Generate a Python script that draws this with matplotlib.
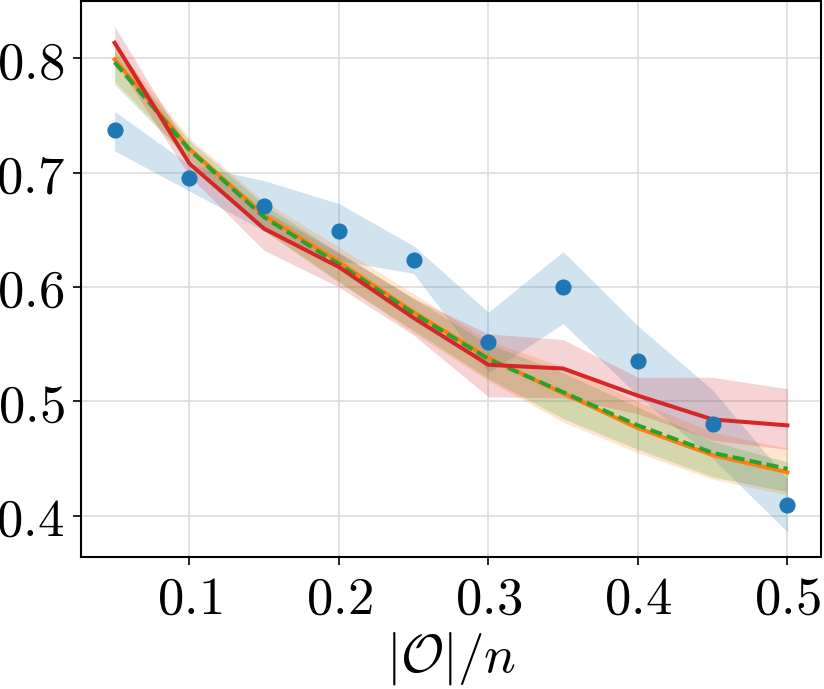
import matplotlib
matplotlib.use("Agg")
import matplotlib.pyplot as plt

plt.rcParams['mathtext.fontset'] = 'cm'
plt.rcParams['font.family'] = ['DejaVu Serif']

x = [0.05, 0.10, 0.15, 0.20, 0.25, 0.30, 0.35, 0.40, 0.45, 0.50]

blue_mean = [0.737, 0.6955, 0.671, 0.6486, 0.624, 0.5515, 0.600, 0.535, 0.480, 0.409]
blue_lo = [0.719, 0.684, 0.649, 0.623, 0.612, 0.525, 0.568, 0.505, 0.450, 0.386]
blue_hi = [0.7535, 0.707, 0.693, 0.673, 0.636, 0.578, 0.631, 0.566, 0.510, 0.432]

orange_mean = [0.799, 0.721, 0.6626, 0.622, 0.578, 0.538, 0.507, 0.4766, 0.453, 0.438]
orange_lo = [0.780, 0.712, 0.650, 0.605, 0.560, 0.518, 0.482, 0.455, 0.432, 0.418]
orange_hi = [0.812, 0.730, 0.675, 0.635, 0.594, 0.553, 0.530, 0.500, 0.473, 0.459]

green_mean = [0.7965, 0.720, 0.661, 0.620, 0.577, 0.537, 0.508, 0.479, 0.455, 0.441]
green_lo = [0.777, 0.711, 0.649, 0.604, 0.562, 0.520, 0.485, 0.458, 0.434, 0.421]
green_hi = [0.806, 0.728, 0.672, 0.630, 0.590, 0.550, 0.525, 0.495, 0.465, 0.447]

red_mean = [0.8135, 0.708, 0.651, 0.6175, 0.573, 0.532, 0.5287, 0.505, 0.4842, 0.479]
red_lo = [0.798, 0.697, 0.632, 0.600, 0.558, 0.504, 0.503, 0.489, 0.466, 0.458]
red_hi = [0.828, 0.720, 0.667, 0.630, 0.590, 0.559, 0.554, 0.521, 0.521, 0.511]

xticks = [0.1, 0.2, 0.3, 0.4, 0.5]
xticklabels = ['$0.1$', '$0.2$', '$0.3$', '$0.4$', '$0.5$']
yticks = [0.4, 0.5, 0.6, 0.7, 0.8]
yticklabels = ['$0.4$', '$0.5$', '$0.6$', '$0.7$', '$0.8$']

fig = plt.figure(figsize=(8.24, 6.89), dpi=100)
ax = fig.add_axes([81/824, (689-557)/689, (821-81)/824, (557-1)/689])

lw = 2.9
ax.fill_between(x, blue_lo, blue_hi, color='tab:blue', alpha=0.2, linewidth=0)
ax.fill_between(x, orange_lo, orange_hi, color='tab:orange', alpha=0.2, linewidth=0)
ax.fill_between(x, green_lo, green_hi, color='tab:green', alpha=0.2, linewidth=0)
ax.fill_between(x, red_lo, red_hi, color='tab:red', alpha=0.2, linewidth=0)

ax.plot(x, orange_mean, color='tab:orange', lw=lw, zorder=3)
ax.plot(x, green_mean, color='tab:green', lw=lw, dashes=(3, 1.3), zorder=4)
ax.plot(x, red_mean, color='tab:red', lw=lw, zorder=5)
ax.scatter(x, blue_mean, s=135, color='tab:blue', zorder=6, linewidths=0)

ax.grid(True, color='#dddddd', linewidth=1.2)
ax.set_axisbelow(True)
ax.set_xticks(xticks)
ax.set_xticklabels(xticklabels)
ax.set_yticks(yticks)
ax.set_yticklabels(yticklabels)
ax.tick_params(axis='both', labelsize=38, length=6, width=1.2, pad=6)
for s in ax.spines.values():
    s.set_linewidth(1.5)
ax.set_xlabel(r'$|\mathcal{O}|/n$', fontsize=38, labelpad=4)

fig.savefig('out.png', dpi=100)
